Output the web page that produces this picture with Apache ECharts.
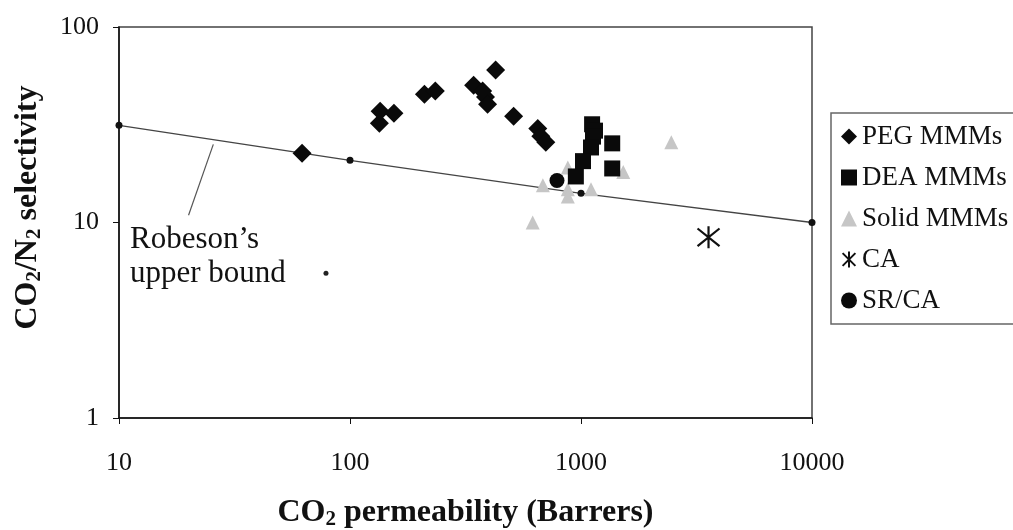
<!DOCTYPE html>
<html>
<head>
<meta charset="utf-8">
<script src="https://cdn.jsdelivr.net/npm/echarts@6/dist/echarts.min.js"></script>
<style>
html,body{margin:0;padding:0;background:#fff;}
#chart{width:1013px;height:530px;}
</style>
</head>
<body>
<div id="chart"></div>
<script>
// CO2 permeability (Barrers) vs CO2/N2 selectivity
const pegMMMs = [[62,22.6],[134,32.2],[135,37.1],[155,36.2],[210,45.3],[234,47],[343,50.4],[375,47],[386,43.8],[394,40.3],[427,60.2],[511,35],[650,30.3],[670,27.6],[704,25.7]];
const deaMMMs = [[1117,31.8],[1150,29.5],[1127,27.5],[1105,24.2],[1365,25.4],[1020,20.6],[950,17.2],[1365,18.9]];
const solidMMMs = [[2460,25.7],[877,19.1],[1524,18.1],[684,15.5],[877,14.8],[877,13.6],[1105,14.8],[618,10]];
const caPoints = [[3565,8.4]];
const srcaPoints = [[787,16.4]];
const otherPoints = [[78.7,5.5]];
const robesonBound = [[10,31.4],[100,20.8],[1000,14.1],[10000,10]];
const leaderLine = [[20,10.9],[25.6,25.1]];
const seriesNames = ['PEG MMMs','DEA MMMs','Solid MMMs','CA','SR/CA'];

const FONT = '"Liberation Serif","Times New Roman",serif';
const asterisk = 'path://M2,2L18,18M18,2L2,18M10,0L10,20';

const chart = echarts.init(document.getElementById('chart'));
chart.setOption({
  animation: false,
  backgroundColor: '#fff',
  grid: {left: 119, right: 201, top: 27, bottom: 112, outerBoundsMode: 'none', containLabel: false, show: true, borderColor: '#444', borderWidth: 1.5, backgroundColor: 'transparent'},
  legend: {
    data: seriesNames,
    orient: 'vertical',
    left: 831, top: 113,
    itemWidth: 16, itemHeight: 16, itemGap: 14,
    padding: [10, 8, 10, 10],
    borderColor: '#666', borderWidth: 1.5,
    textStyle: {fontFamily: FONT, fontSize: 27, color: '#111'}
  },
  xAxis: {
    type: 'log', logBase: 10, min: 10, max: 10000,
    name: '{a|CO}{s|2}{a| permeability (Barrers)}',
    nameLocation: 'middle', nameGap: 78,
    nameTextStyle: {
      rich: {
        a: {fontFamily: FONT, fontSize: 32, fontWeight: 'bold', color: '#111'},
        s: {fontFamily: FONT, fontSize: 21, fontWeight: 'bold', color: '#111', padding: [13, 0, 0, 0]}
      }
    },
    axisLine: {lineStyle: {color: '#111', width: 1.5}},
    axisTick: {lineStyle: {color: '#111'}, length: 6},
    minorTick: {show: false},
    splitLine: {show: false},
    axisLabel: {fontFamily: FONT, fontSize: 26, color: '#111', margin: 32, formatter: v => String(Math.round(v))}
  },
  yAxis: {
    type: 'log', logBase: 10, min: 1, max: 100,
    name: '{a|CO}{s|2}{a|/N}{s|2}{a| selectivity}',
    nameLocation: 'middle', nameGap: 74, nameRotate: 90,
    nameTextStyle: {
      padding: [0, 0, 0, 30],
      rich: {
        a: {fontFamily: FONT, fontSize: 32, fontWeight: 'bold', color: '#111'},
        s: {fontFamily: FONT, fontSize: 21, fontWeight: 'bold', color: '#111', padding: [13, 0, 0, 0]}
      }
    },
    axisLine: {lineStyle: {color: '#111', width: 1.5}},
    axisTick: {lineStyle: {color: '#111'}, length: 6},
    splitLine: {show: false},
    axisLabel: {fontFamily: FONT, fontSize: 26, color: '#111', margin: 20, formatter: v => String(Math.round(v))}
  },
  graphic: [{
    type: 'text', left: 130, top: 223,
    style: {text: 'Robeson\u2019s\nupper bound', font: '31px ' + FONT, fill: '#111', lineHeight: 34}
  }],
  series: [
    {
      name: 'Robeson', type: 'line', data: robesonBound,
      symbol: 'circle', symbolSize: 7, showSymbol: true,
      itemStyle: {color: '#111', opacity: 1},
      lineStyle: {color: '#444', width: 1.3},
      z: 1,
      markLine: {
        silent: true, symbol: 'none', label: {show: false},
        lineStyle: {color: '#555', width: 1.2, type: 'solid'},
        data: [[{coord: leaderLine[0]}, {coord: leaderLine[1]}]]
      }
    },
    {name: 'PEG MMMs', type: 'scatter', data: pegMMMs, symbol: 'diamond', symbolSize: 19, itemStyle: {color: '#0a0a0a', opacity: 1}, z: 3},
    {name: 'DEA MMMs', type: 'scatter', data: deaMMMs, symbol: 'rect', symbolSize: 16, itemStyle: {color: '#0a0a0a', opacity: 1}, z: 3},
    {name: 'Solid MMMs', type: 'scatter', data: solidMMMs, symbol: 'triangle', symbolSize: 14, itemStyle: {color: '#c6c6c6', opacity: 1}, z: 2},
    {name: 'CA', type: 'scatter', data: caPoints, symbol: asterisk, symbolSize: 22, itemStyle: {color: '#111', borderColor: '#111', borderWidth: 2.2, opacity: 1}, z: 3},
    {name: 'SR/CA', type: 'scatter', data: srcaPoints, symbol: 'circle', symbolSize: 15, itemStyle: {color: '#0a0a0a', opacity: 1}, z: 4},
    {name: 'point', type: 'scatter', data: otherPoints, symbol: 'circle', symbolSize: 5, itemStyle: {color: '#222', opacity: 1}, z: 3}
  ]
});
</script>
</body>
</html>
